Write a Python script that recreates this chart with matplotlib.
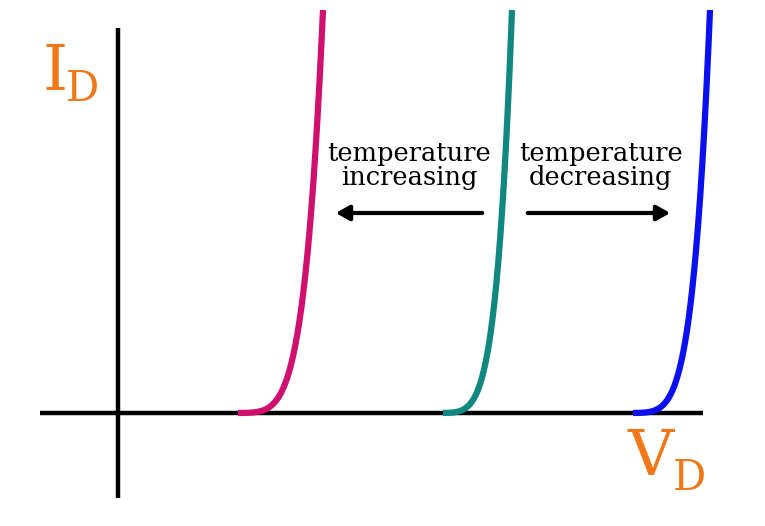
import numpy as np
import matplotlib.pyplot as plt

# diode curves: turn-on voltage, voltage where curve reaches the top
names = ['hot', 'mid', 'cold']
v_on = [105, 310, 500]
v_top = [205, 394, 592]
colors = ['#d0106e', '#108880', '#0a10f0']
i_top = 403
exponent = 5.5

fig = plt.figure(figsize=(7.65, 5.26), dpi=100)
ax = fig.add_axes([0, 0, 1, 1])
ax.set_xlim(-118, 647)
ax.set_ylim(-113, 413)
ax.axis('off')

# axes lines
ax.plot([-78, 585], [0, 0], color='black', lw=3.2, solid_capstyle='butt', zorder=2)
ax.plot([0, 0], [-85, 385], color='black', lw=3.2, solid_capstyle='butt')

for v0, vt, c in zip(v_on, v_top, colors):
    v = np.linspace(v0 + 15, vt, 300)
    i = i_top * ((v - v0) / (vt - v0)) ** exponent
    ax.plot(v, i, color=c, lw=4.5, solid_capstyle='butt', zorder=3)

serif = 'DejaVu Serif'
ax.text(291, 247, 'temperature\nincreasing', ha='center', va='center',
        fontsize=18.5, family=serif, linespacing=0.95)
ax.text(483, 247, 'temperature\ndecreasing', ha='center', va='center',
        fontsize=18.5, family=serif, linespacing=0.95)
ax.annotate('', xy=(215, 200), xytext=(367, 200),
            arrowprops=dict(arrowstyle='-|>,head_length=0.8,head_width=0.45', lw=3, color='black'))
ax.annotate('', xy=(555, 200), xytext=(407, 200),
            arrowprops=dict(arrowstyle='-|>,head_length=0.8,head_width=0.45', lw=3, color='black'))

orange = '#f07818'
ax.text(-75, 323, 'I', fontsize=46, color=orange, family=serif, ha='left', va='baseline')
ax.text(-52, 312, 'D', fontsize=30, color=orange, family=serif, ha='left', va='baseline')
ax.text(510, -62, 'V', fontsize=46, color=orange, family=serif, ha='left', va='baseline')
ax.text(555, -77, 'D', fontsize=30, color=orange, family=serif, ha='left', va='baseline')

fig.savefig('out.png', dpi=100)
